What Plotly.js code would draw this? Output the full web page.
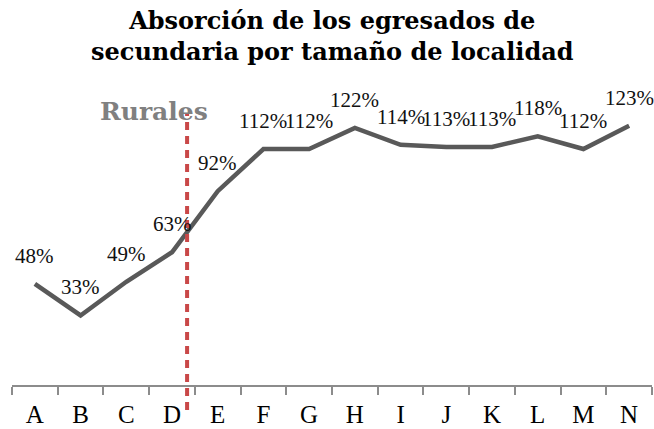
<!DOCTYPE html>
<html>
<head>
<meta charset="utf-8">
<script src="https://cdn.plot.ly/plotly-3.0.1.min.js"></script>
<style>html,body{margin:0;padding:0;background:#fff;}#chart{width:654px;height:429px;}</style>
</head>
<body>
<div id="chart"></div>
<script>
// Data
const categories = ['A','B','C','D','E','F','G','H','I','J','K','L','M','N'];
const values = [48, 33, 49, 63, 92, 112, 112, 122, 114, 113, 113, 118, 112, 123];
const labels = values.map(v => v + '%');
const titleText = 'Absorción de los egresados de<br>secundaria por tamaño de localidad';
const dividerLabel = 'Rurales';

const serif = 'Liberation Serif, DejaVu Serif, serif';

const trace = {
  x: categories,
  y: values,
  type: 'scatter',
  mode: 'lines',
  line: {color: '#595959', width: 4.5},
  hoverinfo: 'skip'
};

const annotations = categories.map((c, i) => ({
  x: c, y: values[i], xref: 'x', yref: 'y',
  text: labels[i], showarrow: false, yshift: 28,
  font: {family: serif, size: 21, color: '#111'}
}));
annotations.push({
  x: 2.6, y: 130, xref: 'x', yref: 'y',
  text: '<b>' + dividerLabel + '</b>', showarrow: false,
  font: {family: 'DejaVu Serif, serif', size: 25, color: '#808080'}
});
annotations.push({
  x: 0.5, y: 1.183, xref: 'paper', yref: 'paper', xanchor: 'center', yanchor: 'middle',
  text: '<b>' + titleText + '</b>', showarrow: false,
  font: {family: 'DejaVu Serif, serif', size: 24, color: '#000'}
});

const layout = {
  width: 654, height: 429,
  margin: {l: 12, r: 2, t: 90, b: 44},
  paper_bgcolor: '#fff', plot_bgcolor: '#fff',
  showlegend: false,
  xaxis: {
    type: 'category', range: [-0.5, 13.5],
    showline: true, linecolor: '#8c8c8c', linewidth: 2,
    ticks: 'outside', tickson: 'boundaries', ticklen: 8, tickcolor: '#8c8c8c', tickwidth: 2,
    ticklabelstandoff: 6,
    showgrid: false, zeroline: false,
    tickfont: {family: serif, size: 25, color: '#000'}
  },
  yaxis: {range: [0, 140], visible: false, showgrid: false, zeroline: false},
  shapes: [{
    type: 'line', xref: 'x', yref: 'paper', x0: 3.33, x1: 3.33, y0: -0.085, y1: 0.92,
    line: {color: '#C94848', width: 4, dash: '8px,6px'}
  }],
  annotations: annotations
};

Plotly.newPlot('chart', [trace], layout, {displayModeBar: false, staticPlot: true});
</script>
</body>
</html>
